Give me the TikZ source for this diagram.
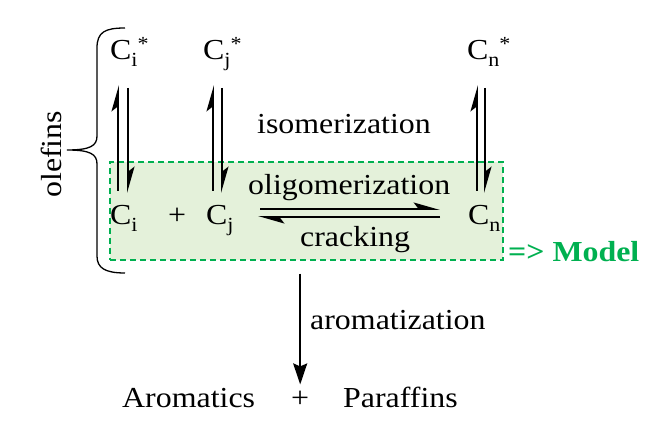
\documentclass[tikz,border=0pt]{standalone}
\usepackage{fontspec}
\setmainfont{Liberation Serif}[FakeStretch=1.1]
\usetikzlibrary{arrows.meta,calc}
\definecolor{mgreen}{HTML}{00B050}
\definecolor{mfill}{HTML}{E4F1DA}
\newcommand\lo[1]{\raisebox{-7pt}{\fontsize{20}{20}\selectfont #1}}
\newcommand\hi[1]{\raisebox{9pt}{\fontsize{20}{20}\selectfont #1}}
\begin{document}
\begin{tikzpicture}[x=1pt,y=-1pt,
  txt/.style={inner sep=0pt,anchor=base west,font=\fontsize{29}{34}\selectfont},
  harp/.style={-{Stealth[harpoon,length=23pt,width=13pt,inset=5pt]},line width=1.9pt},
  arr/.style={-{Stealth[length=21pt,width=14pt,inset=3pt]},line width=1.8pt},
  modelbox/.style={draw=mgreen,fill=mfill,line width=1.3pt,dash pattern=on 6pt off 4pt,minimum width=393pt,minimum height=98pt,inner sep=0pt}]
\useasboundingbox (0,0) rectangle (659,427);
% model box
\node[modelbox] (box) at (306.5,211) {};
% species
\node[txt] (cis) at (110,60) {C\lo{i}\hi{*}};
\node[txt] (cjs) at (203,60) {C\lo{j}\hi{*}};
\node[txt] (cns) at (467,60) {C\lo{n}\hi{*}};
\node[txt] (ci) at (110,225) {C\lo{i}};
\node[txt] (plus1) at (168,225) {+};
\node[txt] (cj) at (206,225) {C\lo{j}};
\node[txt] (cn) at (468,225) {C\lo{n}};
% labels
\node[txt] (iso) at (257,134) {isomerization};
\node[txt] (oligo) at (248,195) {oligomerization};
\node[txt] (crack) at (300,247) {cracking};
\node[txt,text=mgreen,font=\fontsize{29}{34}\selectfont\bfseries] (model) at (508,262) {=> Model};
\node[txt] (aro) at (310,330) {aromatization};
\node[txt] (arom) at (122,408) {Aromatics};
\node[txt] (plus2) at (291,408) {+};
\node[txt] (para) at (343,408) {Paraffins};
\node[txt,rotate=90] (olef) at (61,198) {olefins};
% isomerization equilibria
\draw[harp] ([shift={(8,-34)}]ci.base west) -- ([shift={(8,25)}]cis.base west);
\draw[harp] ([shift={(18,28)}]cis.base west) -- ([shift={(18,-32)}]ci.base west);
\draw[harp] ([shift={(7,-34)}]cj.base west) -- ([shift={(10,25)}]cjs.base west);
\draw[harp] ([shift={(19,28)}]cjs.base west) -- ([shift={(16,-32)}]cj.base west);
\draw[harp] ([shift={(9,-34)}]cn.base west) -- ([shift={(10,25)}]cns.base west);
\draw[harp] ([shift={(18,28)}]cns.base west) -- ([shift={(17,-32)}]cn.base west);
% oligomerization / cracking
\draw[harp] ([shift={(54,-16)}]cj.base west) -- ([shift={(-28,-16)}]cn.base west);
\draw[harp] ([shift={(-28,-8)}]cn.base west) -- ([shift={(52,-8)}]cj.base west);
% aromatization
\draw[arr] ([shift={(0,13)}]box.south -| plus2.north) -- ([shift={(0,-7)}]plus2.north);
% brace
\coordinate (btop) at (125,28);
\coordinate (btip) at (67,150);
\coordinate (bbot) at (125,273);
\draw[line width=1.3pt] (btop) .. controls (105,28) and (97,32) .. (97,48)
  -- (97,136) .. controls (97,146) and (90,150) .. (btip)
  .. controls (90,150) and (97,154) .. (97,164)
  -- (97,256) .. controls (97,268) and (105,273) .. (bbot);
\end{tikzpicture}
\end{document}
